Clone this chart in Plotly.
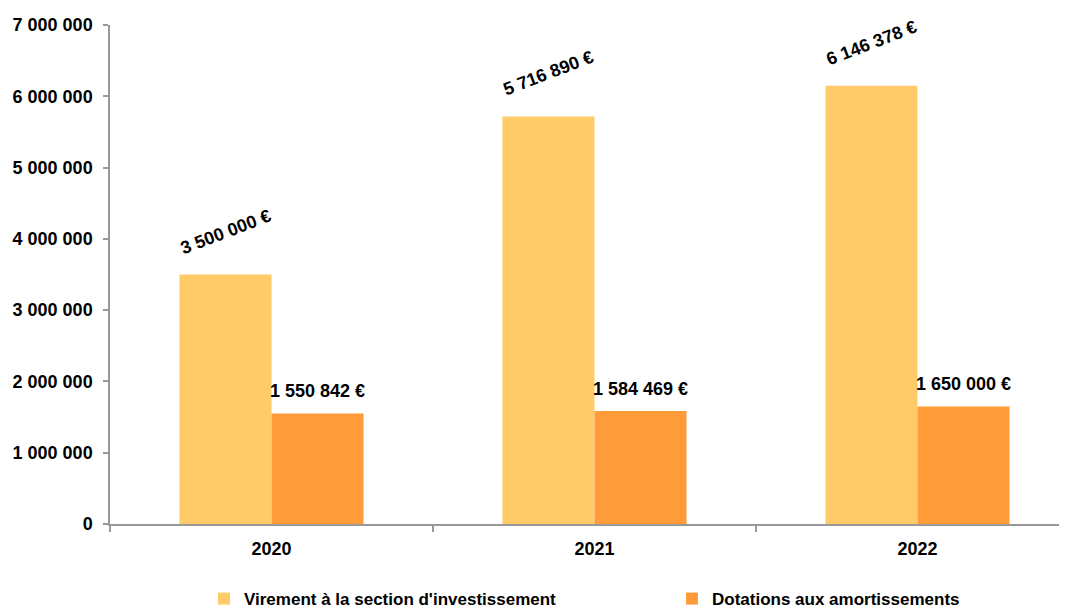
import plotly.graph_objects as go

years = ["2020", "2021", "2022"]
virement = [3500000, 5716890, 6146378]
dotations = [1550842, 1584469, 1650000]
series_names = ["Virement à la section d'investissement", "Dotations aux amortissements"]
ytick_vals = [0, 1000000, 2000000, 3000000, 4000000, 5000000, 6000000, 7000000]
ytick_text = ["0", "1 000 000", "2 000 000", "3 000 000", "4 000 000", "5 000 000", "6 000 000", "7 000 000"]

YELLOW = "#FFCB69"
ORANGE = "#FF9B38"
FONT = "Liberation Sans, Arial, sans-serif"

# the page body has an 8px default margin, so the figure is sized to fit the window
W, H = 1059, 600


def euro(v):
    return f"{v:,}".replace(",", " ") + " €"


fig = go.Figure()
fig.add_trace(go.Bar(x=years, y=virement, name=f"<b>{series_names[0]}</b>", marker_color=YELLOW,
                     marker_line_width=0, legend="legend"))
fig.add_trace(go.Bar(x=years, y=dotations, name=f"<b>{series_names[1]}</b>", marker_color=ORANGE,
                     marker_line_width=0, legend="legend2"))

for i, v in enumerate(virement):
    fig.add_annotation(x=i, y=v, text=f"<b>{euro(v)}</b>", showarrow=False,
                       xshift=-46, yshift=43, textangle=-21,
                       font=dict(family=FONT, size=18, color="black"))
for i, v in enumerate(dotations):
    fig.add_annotation(x=i, y=v, text=f"<b>{euro(v)}</b>", showarrow=False,
                       xshift=46, yshift=22,
                       font=dict(family=FONT, size=18, color="black"))

legend_common = dict(orientation="h", xref="container", yref="container",
                     xanchor="left", yanchor="middle", itemwidth=30,
                     bgcolor="rgba(0,0,0,0)",
                     font=dict(family=FONT, size=17, color="black"))

fig.update_layout(
    width=W, height=H,
    margin=dict(l=102, r=0, t=17, b=84),
    plot_bgcolor="white", paper_bgcolor="white",
    barmode="group", bargap=0.43, bargroupgap=0,
    font=dict(family=FONT, size=16, color="black"),
    showlegend=True,
    legend=dict(x=196 / W, y=9 / H, **legend_common),
    legend2=dict(x=664 / W, y=9 / H, **legend_common),
)
fig.update_xaxes(
    type="category", range=[-0.5, 2.463], automargin=False,
    showline=True, linecolor="#999999", linewidth=1.5,
    ticks="outside", tickson="boundaries", ticklen=6, tickcolor="#999999", tickwidth=1.5,
    ticklabelstandoff=8,
    tickfont=dict(family=FONT, size=18, color="black", weight="bold"),
    showgrid=False, zeroline=False,
)
fig.update_yaxes(
    range=[0, 7000000], tickvals=ytick_vals, ticktext=ytick_text, automargin=False,
    showline=True, linecolor="#999999", linewidth=1.5,
    ticks="outside", ticklen=5, tickcolor="#999999", tickwidth=1.5,
    ticklabelstandoff=7,
    tickfont=dict(family=FONT, size=18, color="black", weight="bold"),
    showgrid=False, zeroline=False,
)

fig.write_html("out.html", post_script="document.body.style.overflow='hidden';")
